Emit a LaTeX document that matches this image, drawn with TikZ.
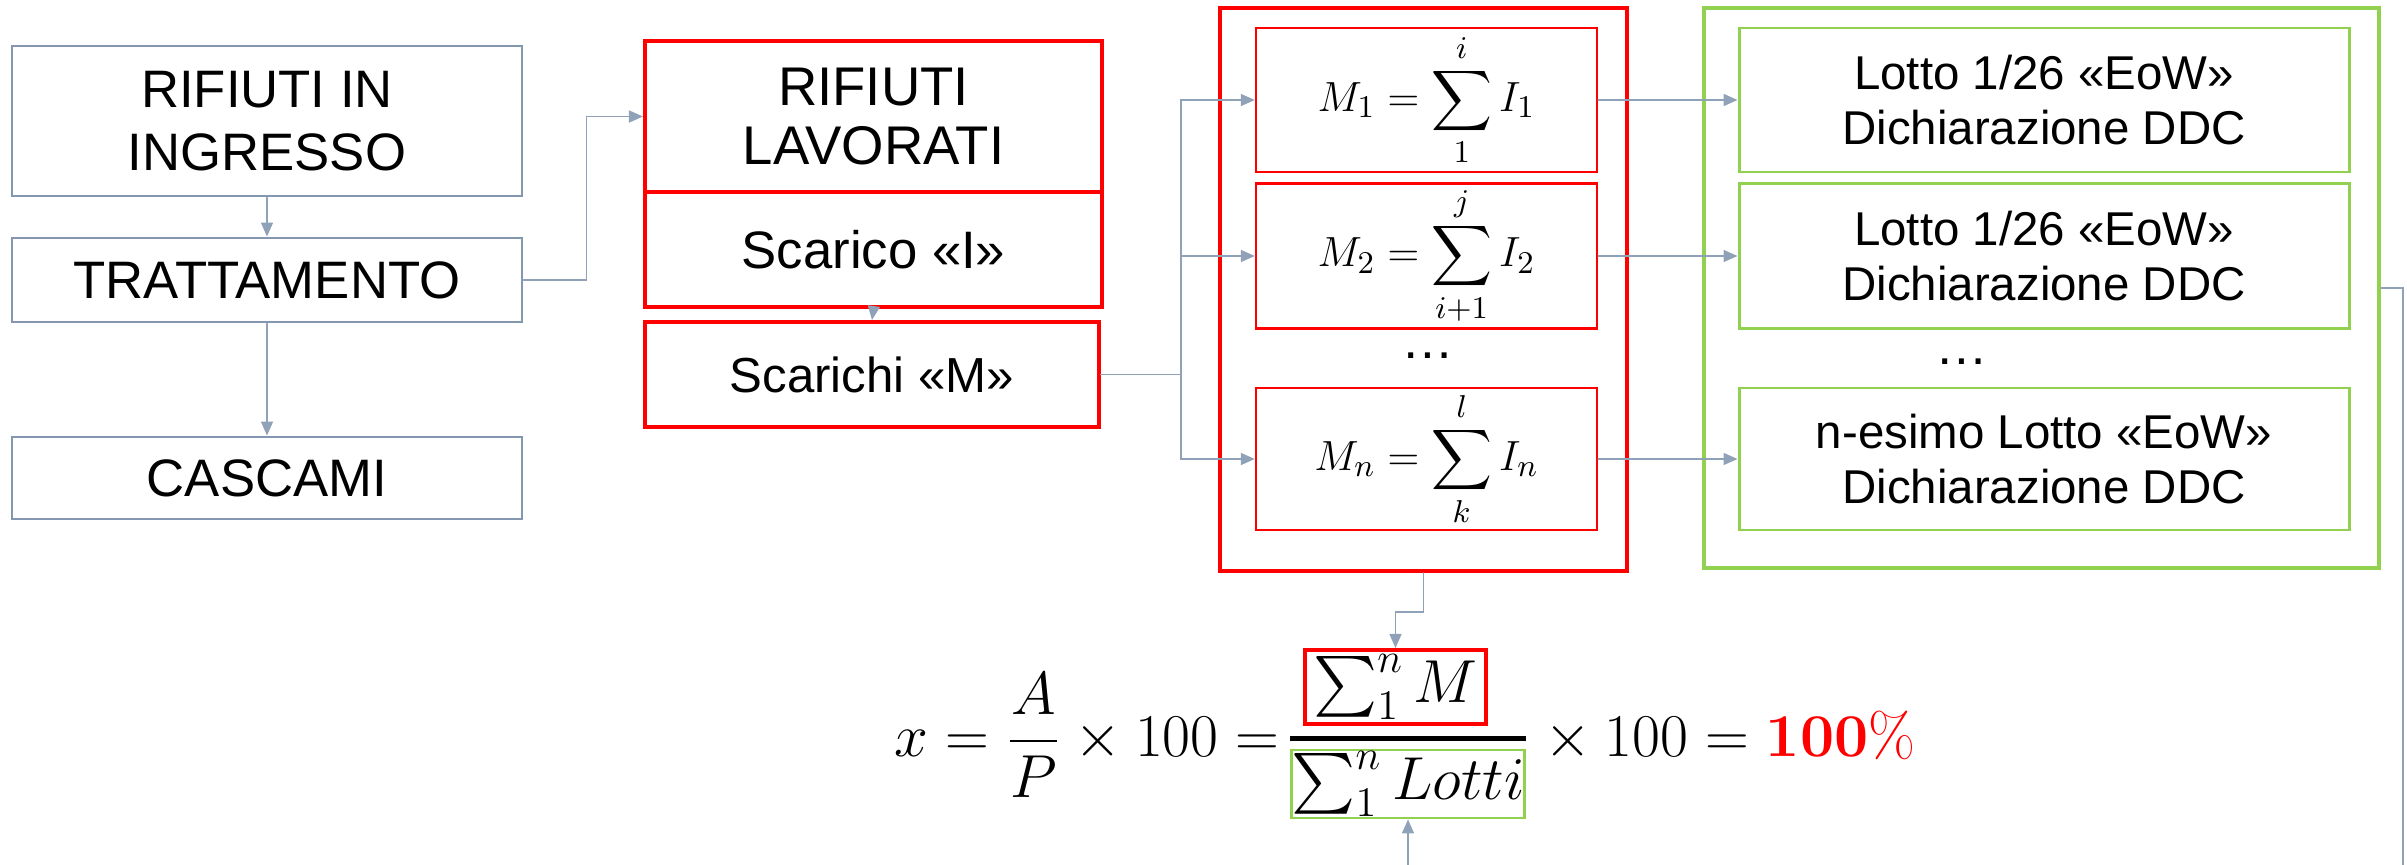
\documentclass[tikz,border=0pt]{standalone}
\usepackage{amsmath}
\usepackage[no-math]{fontspec}
\setmainfont{Liberation Sans}
\usetikzlibrary{arrows.meta}
\definecolor{boxgray}{HTML}{8497B0}
\definecolor{linkgray}{HTML}{8FA2B7}
\definecolor{lotgreen}{HTML}{92D050}
\definecolor{mred}{HTML}{FF0000}

\begin{document}
\begin{tikzpicture}[x=0.1mm,y=-0.1mm,>={Triangle[length=1.4mm,width=1.2mm]},line cap=round,
  inbox/.style={draw=boxgray,line width=0.85pt,inner sep=0pt,align=center,minimum width=51mm,font=\fontsize{15}{18}\selectfont},
  redbox/.style={draw=mred,line width=1.15pt,inner sep=0pt,align=center},
  mbox/.style={draw=mred,line width=0.7pt,inner sep=0pt,minimum width=34.1mm,font=\fontsize{13}{16}\selectfont},
  lotbox/.style={draw=lotgreen,line width=0.85pt,inner sep=0pt,align=center,minimum width=61mm,font=\fontsize{13.5}{15.5}\selectfont},
  link/.style={draw=linkgray,line width=0.45pt},
  eq/.style={inner sep=0pt,font=\fontsize{18}{21}\selectfont}]
\useasboundingbox (0,0) rectangle (2407,865);
\node[inbox,minimum height=15mm] (ingresso) at (267,121) {RIFIUTI IN\\INGRESSO};
\node[inbox,minimum height=8.4mm] (tratt) at (267,280) {TRATTAMENTO};
\node[inbox,minimum height=8.2mm] (cascami) at (267,478) {CASCAMI};
\node[redbox,minimum width=45.7mm,minimum height=15.1mm,font=\fontsize{15.5}{17}\selectfont] (lavorati) at (873.5,116.5) {RIFIUTI\\LAVORATI};
\node[redbox,minimum width=45.7mm,minimum height=11.5mm,font=\fontsize{15}{18}\selectfont] (scarico) at (873.5,249.5) {Scarico «I»};
\node[redbox,minimum width=45.4mm,minimum height=10.5mm,font=\fontsize{14}{17}\selectfont] (scarichi) at (872,374.5) {Scarichi «M»};
\node[redbox,minimum width=40.7mm,minimum height=56.3mm] (bigM) at (1423.5,289.5) {};
\node[mbox,minimum height=14.4mm] (m1) at (1426.5,100) {$\displaystyle M_1=\sum_{1}^{i} I_1$};
\node[mbox,minimum height=14.5mm] (m2) at (1426.5,256) {$\displaystyle M_2=\sum_{i+1}^{j} I_2$};
\node[mbox,minimum height=14.2mm] (mn) at (1426.5,459) {$\displaystyle M_n=\sum_{k}^{l} I_n$};
\node[font=\fontsize{15}{18}\selectfont] (dotsM) at (1428,356) {…};
\node[draw=lotgreen,line width=1.15pt,minimum width=67.5mm,minimum height=56mm] (bigL) at (2041.5,288) {};
\node[lotbox,minimum height=14.4mm] (l1) at (2044,100) {Lotto 1/26 «EoW»\\Dichiarazione DDC};
\node[lotbox,minimum height=14.5mm] (l2) at (2044,256) {Lotto 1/26 «EoW»\\Dichiarazione DDC};
\node[lotbox,minimum height=14.2mm] (ln) at (2044,459) {n-esimo Lotto «EoW»\\Dichiarazione DDC};
\node[font=\fontsize{15}{18}\selectfont] (dotsL) at (1962,362) {…};
\node[eq,draw=mred,line width=1.15pt,minimum width=18.1mm,minimum height=7.4mm] (num) at (1395.5,687) {$\sum_1^n M$};
\node[eq,draw=lotgreen,line width=0.85pt,minimum width=23mm,minimum height=6.8mm] (den) at (1408,784) {$\sum_1^n Lotti$};
\draw[line width=1.4pt,line cap=butt] ([yshift=1mm]den.north west) -- ([yshift=1mm]den.north east);
\node[eq,anchor=base east] (lhs) at (1280,756) {$x=\dfrac{A}{P}\times 100=$};
\node[eq,anchor=base west] (rhs) at (1530,756) {${}\times 100=\textcolor{mred}{\mathbf{100\%}}$};
\coordinate (lotin) at (1408,865);
\coordinate (lout) at (2403,865);
\draw[link,->] (ingresso.south) -- (tratt.north);
\draw[link,->] (tratt.south) -- (cascami.north);
\draw[link,->] (tratt.east) -- ++(63,0) |- (lavorati.west);
\draw[link,->] (scarico.south) -- (scarichi.north);
\draw[link,->] (scarichi.east) -- ++(80,0) |- (m1.west);
\draw[link,->] (scarichi.east) -- ++(80,0) |- (m2.west);
\draw[link,->] (scarichi.east) -- ++(80,0) |- (mn.west);
\draw[link,->] (m1.east) -- (l1.west);
\draw[link,->] (m2.east) -- (l2.west);
\draw[link,->] (mn.east) -- (ln.west);
\draw[link,->] (bigM.south) -- ++(0,39) -| (num.north);
\draw[link,->] (lotin) -- (den.south);
\draw[link] (bigL.east) -| (lout);
\end{tikzpicture}
\end{document}
